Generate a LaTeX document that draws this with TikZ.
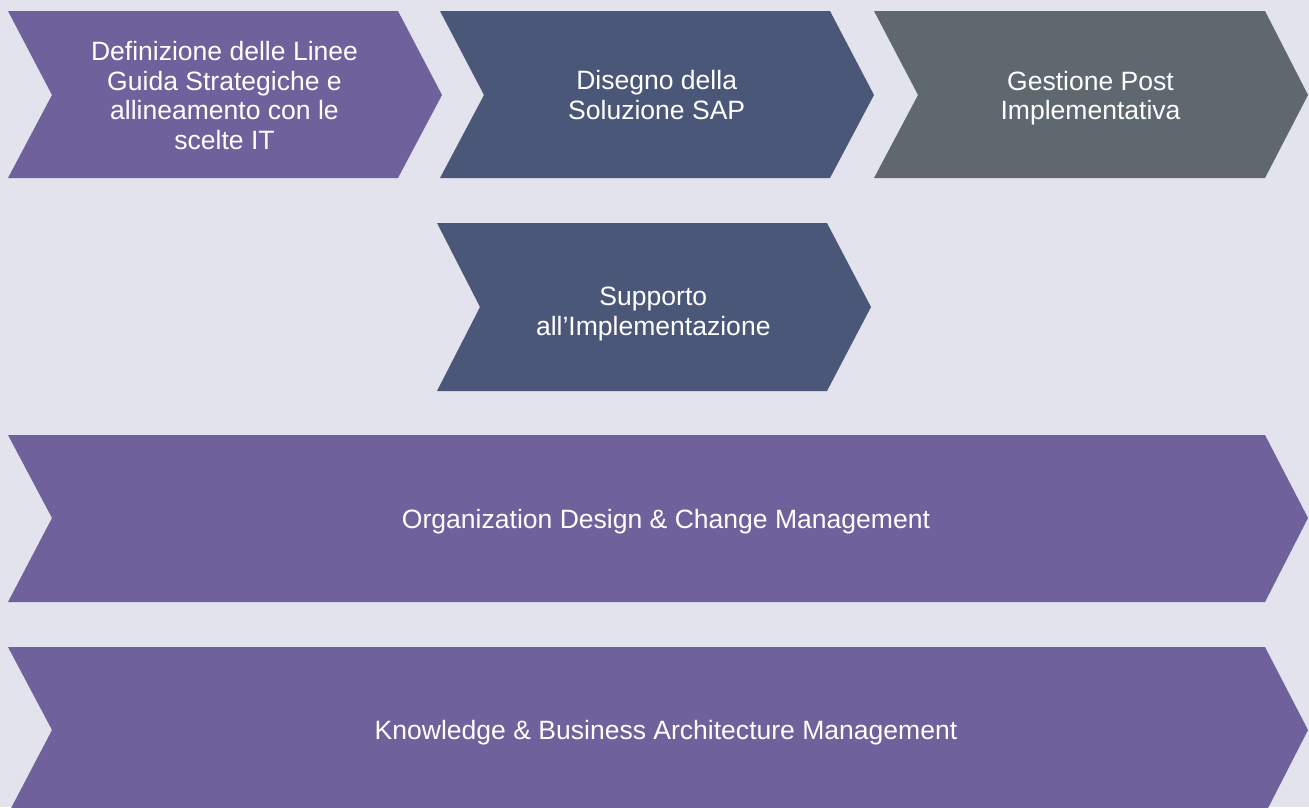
\documentclass[tikz,border=0pt]{standalone}
\usepackage{fontspec}
\setmainfont{Liberation Sans}
\definecolor{sfondo}{HTML}{E3E3ED}
\definecolor{viola}{HTML}{6E619C}
\definecolor{blu}{HTML}{4B5779}
\definecolor{grigio}{HTML}{5E686E}
\tikzset{fase/.style={text=white,align=center,inner sep=0pt,text depth=0pt,font=\fontsize{19.9}{22.1}\selectfont}}
\begin{document}
\begin{tikzpicture}[x=0.75pt,y=-0.75pt]
        \fill[sfondo] (0,0) rectangle (1309,807);
        \useasboundingbox (0,0) rectangle (1309,807);
        % prima riga
        \fill[viola] (8,11) -- (398,11) -- (442,95) -- (398,178) -- (8,178) -- (52,95) -- cycle;
        \fill[blu] (440,11) -- (830,11) -- (874,95) -- (830,178) -- (440,178) -- (484,95) -- cycle;
        \fill[grigio] (874,11) -- (1265,11) -- (1308,95) -- (1265,178) -- (874,178) -- (918,95) -- cycle;
        % seconda riga
        \fill[blu] (437,223) -- (827,223) -- (871,307) -- (827,391) -- (437,391) -- (480,307) -- cycle;
        % frecce lunghe
        \fill[viola] (8,435) -- (1265,435) -- (1308,518) -- (1265,602) -- (8,602) -- (52,518) -- cycle;
        \fill[viola] (8,647) -- (1265,647) -- (1308,730) -- (1265,814) -- (8,814) -- (52,730) -- cycle;
        \node[fase] (linee) at (224.5,95.5) {Definizione delle Linee\\Guida Strategiche e\\allineamento con le\\scelte IT};
        \node[fase] (disegno) at (656.7,95) {Disegno della\\Soluzione SAP};
        \node[fase] (gestione) at (1090.5,95.4) {Gestione Post\\Implementativa};
        \node[fase] (supporto) at (653.3,311) {Supporto\\all’Implementazione};
        \node[fase] (change) at (666,518.8) {Organization Design \& Change Management};
        \node[fase] (knowledge) at (666,729.5) {Knowledge \& Business Architecture Management};
    \end{tikzpicture}
\end{document}
